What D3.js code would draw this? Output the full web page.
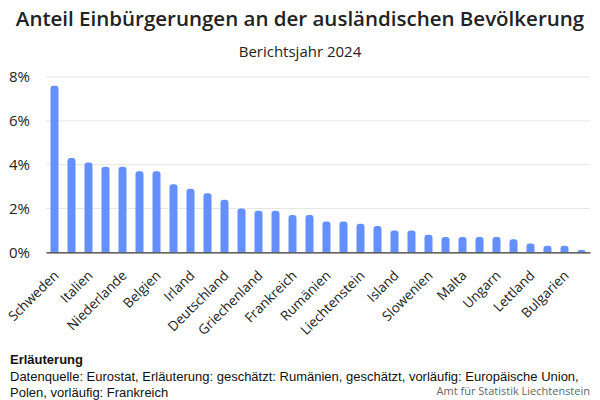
<!DOCTYPE html>
<html><head><meta charset="utf-8">
<script src="https://cdn.jsdelivr.net/npm/d3@7"></script>
<style>body{margin:0;background:#fff}svg{display:block}</style>
</head><body>
<svg id="c" width="600" height="400"></svg>
<script>
const countries = ["Schweden","Norwegen","Italien","Finnland","Niederlande","Portugal","Belgien","Luxemburg","Irland","Spanien","Deutschland","Europäische Union","Griechenland","Schweiz","Frankreich","Kroatien","Rumänien","Dänemark","Liechtenstein","Polen","Island","Österreich","Slowenien","Zypern","Malta","Tschechien","Ungarn","Slowakei","Lettland","Litauen","Bulgarien","Estland"];
const values = [7.6,4.3,4.1,3.9,3.9,3.7,3.7,3.1,2.9,2.7,2.4,2.0,1.9,1.9,1.7,1.7,1.4,1.4,1.3,1.2,1.0,1.0,0.8,0.7,0.7,0.7,0.7,0.6,0.4,0.3,0.3,0.1];
const yTicks = [0,2,4,6,8];
const title = "Anteil Einbürgerungen an der ausländischen Bevölkerung";
const subtitle = "Berichtsjahr 2024";
const noteTitle = "Erläuterung";
const noteLines = ["Datenquelle: Eurostat, Erläuterung: geschätzt: Rumänien, geschätzt, vorläufig: Europäische Union,","Polen, vorläufig: Frankreich"];
const credit = "Amt für Statistik Liechtenstein";

const svg = d3.select("#c");
const M = {l:46, r:10};
const W = 600;
const x = d3.scaleBand().domain(countries).range([M.l, W - M.r]).paddingInner(0.53).paddingOuter(0.265);
const y = d3.scaleLinear().domain([0,8]).range([252.3, 77]);
const font = "'Open Sans', Lato, sans-serif";

svg.append("text").attr("x",300).attr("y",26).attr("text-anchor","middle")
  .attr("font-family",font).attr("font-size",20.5).attr("font-weight",600).attr("fill","#222").text(title);
svg.append("text").attr("x",300).attr("y",57).attr("text-anchor","middle")
  .attr("font-family",font).attr("font-size",15).attr("fill","#222").text(subtitle);

// grid
svg.append("g").selectAll("line").data(yTicks.filter(d=>d>0)).join("line")
  .attr("x1",M.l).attr("x2",W-M.r).attr("y1",d=>y(d)).attr("y2",d=>y(d))
  .attr("stroke","#e6e6e6").attr("stroke-width",1);

// y axis
const yAxis = svg.append("g").attr("transform",`translate(${M.l},0)`)
  .call(d3.axisLeft(y).tickValues(yTicks).tickFormat(d=>d+"%").tickSize(0).tickPadding(16));
yAxis.select(".domain").remove();
yAxis.selectAll("text").attr("font-family",font).attr("font-size",15).attr("fill","#222").attr("dy","0.32em");

// bars
const r = 3;
svg.append("g").selectAll("path").data(values).join("path")
  .attr("fill","#648fff")
  .attr("d",(v,i)=>{
    const x0 = x(countries[i]), w = x.bandwidth(), y0 = y(0), y1 = y(v);
    const rr = Math.min(r, (y0-y1), w/2);
    return `M${x0},${y0}V${y1+rr}Q${x0},${y1} ${x0+rr},${y1}H${x0+w-rr}Q${x0+w},${y1} ${x0+w},${y1+rr}V${y0}Z`;
  });

// x axis
const xAxis = svg.append("g").attr("transform",`translate(0,${y(0)})`)
  .call(d3.axisBottom(x).tickValues(countries.filter((d,i)=>i%2===0)).tickSize(0).tickPadding(0));
xAxis.select(".domain").attr("stroke","#333").attr("stroke-width",1.3);
xAxis.selectAll("text").attr("font-family",font).attr("font-size",13.5).attr("fill","#222")
  .attr("text-anchor","end").attr("dy","0").attr("y",0)
  .attr("transform","translate(5,24) rotate(-45)");

// footer
svg.append("text").attr("x",10).attr("y",364).attr("font-family","'Liberation Sans', Arial, sans-serif")
  .attr("font-size",13).attr("font-weight","bold").attr("fill","#111").text(noteTitle);
svg.append("g").selectAll("text").data(noteLines).join("text")
  .attr("x",10).attr("y",(d,i)=>381+i*15.5).attr("font-family","'Liberation Sans', Arial, sans-serif")
  .attr("font-size",13).attr("fill","#111").text(d=>d);
svg.append("text").attr("x",590).attr("y",395).attr("text-anchor","end")
  .attr("font-family",font).attr("font-size",11).attr("fill","#666").text(credit);
</script>
</body></html>
